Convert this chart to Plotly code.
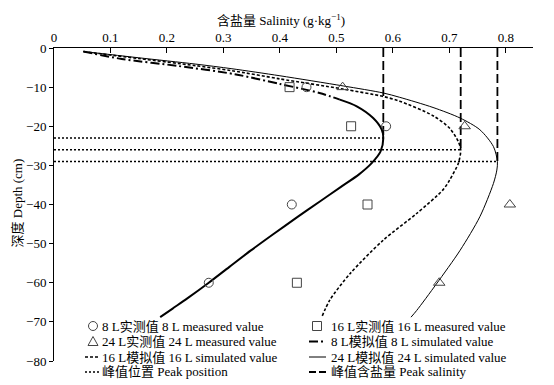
import plotly.graph_objects as go

# ---- data ----
depth_meas = [-10, -20, -40, -60]
meas_8 = [0.447, 0.588, 0.421, 0.274]
meas_16 = [0.417, 0.526, 0.555, 0.430]
meas_24 = [0.511, 0.727, 0.807, 0.682]

# 8 L simulated: upper (dash-dot) and lower (solid) parts
sim8_top_sal = [0.052, 0.12, 0.22, 0.32, 0.40, 0.47, 0.506]
sim8_top_dep = [-0.9, -2.8, -4.6, -6.7, -9.2, -11.5, -13.2]
sim8_sal = [0.506, 0.536, 0.565, 0.580, 0.583, 0.578, 0.562, 0.540, 0.508, 0.470, 0.430,
            0.388, 0.348, 0.310, 0.274, 0.236, 0.210, 0.188]
sim8_dep = [-13.2, -14.9, -17.9, -20.8, -23.0, -26.5, -29.5, -32.3, -35.5, -39.3, -43.3,
            -47.6, -51.8, -56.0, -60.0, -64.0, -66.6, -68.8]

sim16_sal = [0.052, 0.15, 0.25, 0.315, 0.40, 0.512, 0.583, 0.612, 0.671, 0.701, 0.716, 0.720,
             0.716, 0.701, 0.689, 0.642, 0.583, 0.524, 0.488, 0.474]
sim16_dep = [-0.9, -2.7, -4.5, -5.8, -7.9, -10.5, -12.4, -13.6, -17.3, -20.6, -24.0, -26.0,
             -29.4, -33.6, -36.2, -42.3, -49.1, -57.7, -64.5, -68.8]

sim24_sal = [0.052, 0.15, 0.25, 0.315, 0.40, 0.512, 0.583, 0.612, 0.671, 0.719, 0.754, 0.778,
             0.785, 0.784, 0.778, 0.754, 0.719, 0.677, 0.642, 0.632]
sim24_dep = [-0.9, -2.5, -4.1, -5.3, -7.1, -9.7, -11.5, -12.6, -15.2, -17.9, -20.9, -25.2,
             -29.0, -31.2, -34.6, -43.1, -51.7, -60.3, -67.1, -68.8]

peak_sal = [0.583, 0.720, 0.785]
peak_depth = [-23, -26, -29]

legend_labels = [
    "8 L实测值 8 L measured value",
    "16 L实测值 16 L measured value",
    "24 L实测值 24 L measured value",
    "8 L模拟值 8 L simulated value",
    "16 L模拟值 16 L simulated value",
    "24 L模拟值 24 L simulated value",
    "峰值位置 Peak position",
    "峰值含盐量 Peak salinity",
]
legend_kinds = ["circle", "square", "triangle", "dashdot", "dash", "solid", "dot", "longdash"]

x_title = "含盐量 Salinity (g·kg<sup>−1</sup>)"
y_title = "深度 Depth (cm)"

FONT = "Liberation Serif, Times New Roman, Noto Sans CJK SC, serif"
MK = "#444444"

# ---- layout geometry ----
# the page body adds an 8px margin; positions below are page pixels
OFF = 8
W, H = 554 - OFF, 385 - OFF
ML, MT = 54 - OFF, 48 - OFF
PLOT_R, PLOT_B = 533 - OFF, 361 - OFF
MR, MB = W - PLOT_R, H - PLOT_B
PW, PH = W - ML - MR, H - MT - MB


def fx(px):
    return (px - OFF - ML) / PW


def fy(py):
    return (PLOT_B - (py - OFF)) / PH


# peak helper lines built from data
hx, hy, vx, vy = [], [], [], []
for s, d in zip(peak_sal, peak_depth):
    hx += [0, s, None]
    hy += [d, d, None]
    vx += [s, s, None]
    vy += [0, d, None]

DASH = {"dashdot": "9px,3px,2px,3px", "dash": "3px,2px", "solid": "solid",
        "dot": "2px,2px", "longdash": "7px,3px"}
WID = {"dashdot": 2, "dash": 1.6, "solid": 1, "dot": 1.6, "longdash": 1.8}

fig = go.Figure()
fig.add_trace(go.Scatter(x=hx, y=hy, mode="lines", line=dict(color="black", width=1.6, dash=DASH["dot"])))
fig.add_trace(go.Scatter(x=vx, y=vy, mode="lines", line=dict(color="black", width=1.8, dash="9px,4px")))
fig.add_trace(go.Scatter(x=sim24_sal, y=sim24_dep, mode="lines",
                         line=dict(color="black", width=1, shape="spline", smoothing=0.8)))
fig.add_trace(go.Scatter(x=sim16_sal, y=sim16_dep, mode="lines",
                         line=dict(color="black", width=1.6, dash=DASH["dash"], shape="spline", smoothing=0.8)))
fig.add_trace(go.Scatter(x=sim8_top_sal, y=sim8_top_dep, mode="lines",
                         line=dict(color="black", width=2, dash=DASH["dashdot"], shape="spline", smoothing=0.8)))
fig.add_trace(go.Scatter(x=sim8_sal, y=sim8_dep, mode="lines",
                         line=dict(color="black", width=2, shape="spline", smoothing=0.8)))
fig.add_trace(go.Scatter(x=meas_8, y=depth_meas, mode="markers",
                         marker=dict(symbol="circle-open", size=9, color=MK, line=dict(width=1))))
fig.add_trace(go.Scatter(x=meas_16, y=depth_meas, mode="markers",
                         marker=dict(symbol="square-open", size=9, color=MK, line=dict(width=1))))
fig.add_trace(go.Scatter(x=meas_24, y=depth_meas, mode="markers",
                         marker=dict(symbol="triangle-up-open", size=10, color=MK, line=dict(width=1))))

# ---- hand-built two-column legend ----
row_y = [326, 341.5, 357, 372]
shapes, annotations = [], []
for i, (lab, kind) in enumerate(zip(legend_labels, legend_kinds)):
    col, row = i % 2, i // 2
    yc = fy(row_y[row])
    mx = 93 if col == 0 else 317          # marker centre
    lx0, lx1 = (85, 100) if col == 0 else (309, 326)
    tx = 100 if col == 0 else 329
    base = dict(xref="paper", yref="paper", xsizemode="pixel", ysizemode="pixel",
                yanchor=yc, line=dict(color=MK, width=1))
    if kind == "circle":
        shapes.append(dict(type="circle", xanchor=fx(mx), x0=-4.5, x1=4.5, y0=-4.5, y1=4.5, **base))
    elif kind == "square":
        shapes.append(dict(type="rect", xanchor=fx(mx), x0=-4.5, x1=4.5, y0=-4.5, y1=4.5, **base))
    elif kind == "triangle":
        shapes.append(dict(type="path", xanchor=fx(mx), path="M-5,-4 L5,-4 L0,5 Z", **base))
    else:
        b = dict(base)
        b["line"] = dict(color="black", width=WID[kind], dash=DASH[kind])
        shapes.append(dict(type="line", xanchor=fx(lx0), x0=0, x1=lx1 - lx0, y0=0, y1=0, **b))
    annotations.append(dict(xref="paper", yref="paper", x=fx(tx), y=yc, text=lab, showarrow=False,
                            xanchor="left", yanchor="middle", font=dict(size=13)))

# axis titles
annotations.append(dict(xref="paper", yref="paper", x=fx(281), y=fy(20), text=x_title, showarrow=False,
                        xanchor="center", yanchor="middle", font=dict(size=13)))
annotations.append(dict(xref="paper", yref="paper", x=fx(16.5), y=fy(203), text=y_title, showarrow=False,
                        textangle=-90, xanchor="center", yanchor="middle", font=dict(size=13)))

fig.update_layout(
    width=W, height=H,
    margin=dict(l=ML, r=MR, t=MT, b=MB, pad=0),
    paper_bgcolor="white", plot_bgcolor="white",
    font=dict(family=FONT, size=13, color="black"),
    showlegend=False,
    shapes=shapes, annotations=annotations,
)
fig.update_xaxes(range=[0, 0.848], side="top", showline=True, linecolor="black", linewidth=1,
                 ticks="inside", ticklen=5, tickcolor="black", dtick=0.1, tick0=0,
                 showgrid=False, zeroline=False, tickfont=dict(size=13), automargin=False)
fig.update_yaxes(range=[-80, 0], showline=True, linecolor="black", linewidth=1,
                 ticks="outside", ticklen=4, tickcolor="black", dtick=10,
                 showgrid=False, zeroline=False, tickfont=dict(size=13), automargin=False)

fig.write_html("out.html")
